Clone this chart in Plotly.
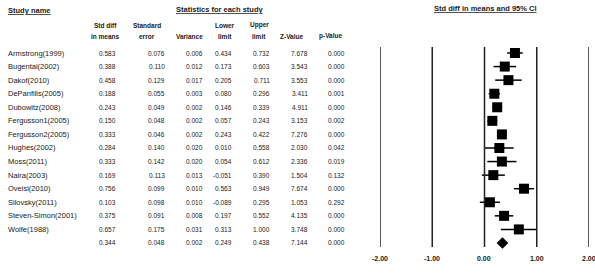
import plotly.graph_objects as go

studies = ["Armstrong(1999)", "Bugental(2002)", "Dakof(2010)", "DePanfilis(2005)",
           "Dubowitz(2008)", "Fergusson1(2005)", "Fergusson2(2005)", "Hughes(2002)",
           "Moss(2011)", "Naira(2003)", "Oveisi(2010)", "Silovsky(2011)",
           "Steven-Simon(2001)", "Wolfe(1988)", ""]
std_diff = [0.583, 0.388, 0.458, 0.188, 0.243, 0.150, 0.333, 0.284, 0.333, 0.169, 0.756, 0.103, 0.375, 0.657, 0.344]
std_err = [0.076, 0.110, 0.129, 0.055, 0.049, 0.048, 0.046, 0.140, 0.142, 0.113, 0.099, 0.098, 0.091, 0.175, 0.048]
variance = [0.006, 0.012, 0.017, 0.003, 0.002, 0.002, 0.002, 0.020, 0.020, 0.013, 0.010, 0.010, 0.008, 0.031, 0.002]
lower = [0.434, 0.173, 0.205, 0.080, 0.146, 0.057, 0.243, 0.010, 0.054, -0.051, 0.563, -0.089, 0.197, 0.313, 0.249]
upper = [0.732, 0.603, 0.711, 0.296, 0.339, 0.243, 0.422, 0.558, 0.612, 0.390, 0.949, 0.295, 0.552, 1.000, 0.438]
z_value = [7.678, 3.543, 3.553, 3.411, 4.911, 3.153, 7.276, 2.030, 2.336, 1.504, 7.674, 1.053, 4.135, 3.748, 7.144]
p_value = [0.000, 0.000, 0.000, 0.001, 0.000, 0.002, 0.000, 0.042, 0.019, 0.132, 0.000, 0.292, 0.000, 0.000, 0.000]
tick_vals = [-2, -1, 0, 1, 2]
tick_labels = ["-2.00", "-1.00", "0.00", "1.00", "2.00"]

W, H = 595, 273
ROW0, ROWSTEP = 53.0, 13.57
def prow(p):
    return (p - ROW0) / ROWSTEP
def px(x):
    return x / W

FONT = "Liberation Sans"
TXT = "#1a1a1a"
n_study = len(studies) - 1
rows = list(range(len(studies)))

fig = go.Figure()

# study squares with CI
fig.add_trace(go.Scatter(
    x=std_diff[:n_study], y=rows[:n_study], mode="markers",
    marker=dict(symbol="square", size=10, color="black"),
    error_x=dict(type="data", symmetric=False,
                 array=[u - e for u, e in zip(upper[:n_study], std_diff[:n_study])],
                 arrayminus=[e - l for e, l in zip(std_diff[:n_study], lower[:n_study])],
                 width=0, thickness=1.5, color="black"),
    hoverinfo="skip", showlegend=False))
# summary diamond
fig.add_trace(go.Scatter(
    x=[std_diff[-1]], y=[rows[-1]], mode="markers",
    marker=dict(symbol="diamond", size=9, color="black"),
    hoverinfo="skip", showlegend=False))

# vertical reference lines
for v in tick_vals:
    fig.add_shape(type="line", xref="x", yref="y", x0=v, x1=v,
                  y0=prow(47), y1=prow(247), line=dict(color="#222222", width=1.5))

ann = []
def add(text, x, y, anchor="right", bold=False, size=7, under=False):
    t = text
    if under:
        t = "<u>" + t + "</u>"
    if bold:
        t = "<b>" + t + "</b>"
    ann.append(dict(text=t, x=px(x), y=prow(y), xref="paper", yref="y",
                    xanchor=anchor, yanchor="middle", showarrow=False,
                    font=dict(family=FONT, size=size, color=TXT)))

# titles
add("Study name", 6, 10, anchor="left", bold=True, size=7.5, under=True)
add("Statistics for each study", 220, 9, anchor="center", bold=True, size=7.5, under=True)
add("Std diff in means and 95% CI", 485, 8, anchor="center", bold=True, size=7.5, under=True)

# column headers
headers = [("Std diff", "in means", 105), ("Standard", "error", 147), ("", "Variance", 190),
           ("Lower", "limit", 225), ("Upper", "limit", 259), ("", "Z-Value", 292), ("", "p-Value", 331)]
for h1, h2, cx in headers:
    if h1:
        add(h1, cx, 25, anchor="center", bold=True, size=6.5)
    add(h2, cx, 36, anchor="center", bold=True, size=6.5)

col_right = [118, 167, 205, 234, 272, 310, 347]
cols = [std_diff, std_err, variance, lower, upper, z_value, p_value]
for i, r in enumerate(rows):
    if studies[i]:
        add(studies[i], 6, ROW0 + ROWSTEP * r, anchor="left", size=7.5)
    for c, xr in zip(cols, col_right):
        add(f"{c[i]:.3f}", xr, ROW0 + ROWSTEP * r, anchor="right", size=6.5)

for v, lab in zip(tick_vals, tick_labels):
    ann.append(dict(text="<b>" + lab + "</b>", x=v, y=prow(258), xref="x", yref="y",
                    xanchor="center", yanchor="middle", showarrow=False,
                    font=dict(family=FONT, size=7, color=TXT)))

fig.update_layout(
    width=W, height=H, margin=dict(l=0, r=0, t=0, b=0),
    paper_bgcolor="white", plot_bgcolor="white",
    xaxis=dict(domain=[380 / W, 589 / W], range=[-2, 2], visible=False, fixedrange=True),
    yaxis=dict(domain=[0, 1], range=[prow(H), prow(0)], visible=False, fixedrange=True),
    annotations=ann, showlegend=False)

fig.write_html("out.html")
